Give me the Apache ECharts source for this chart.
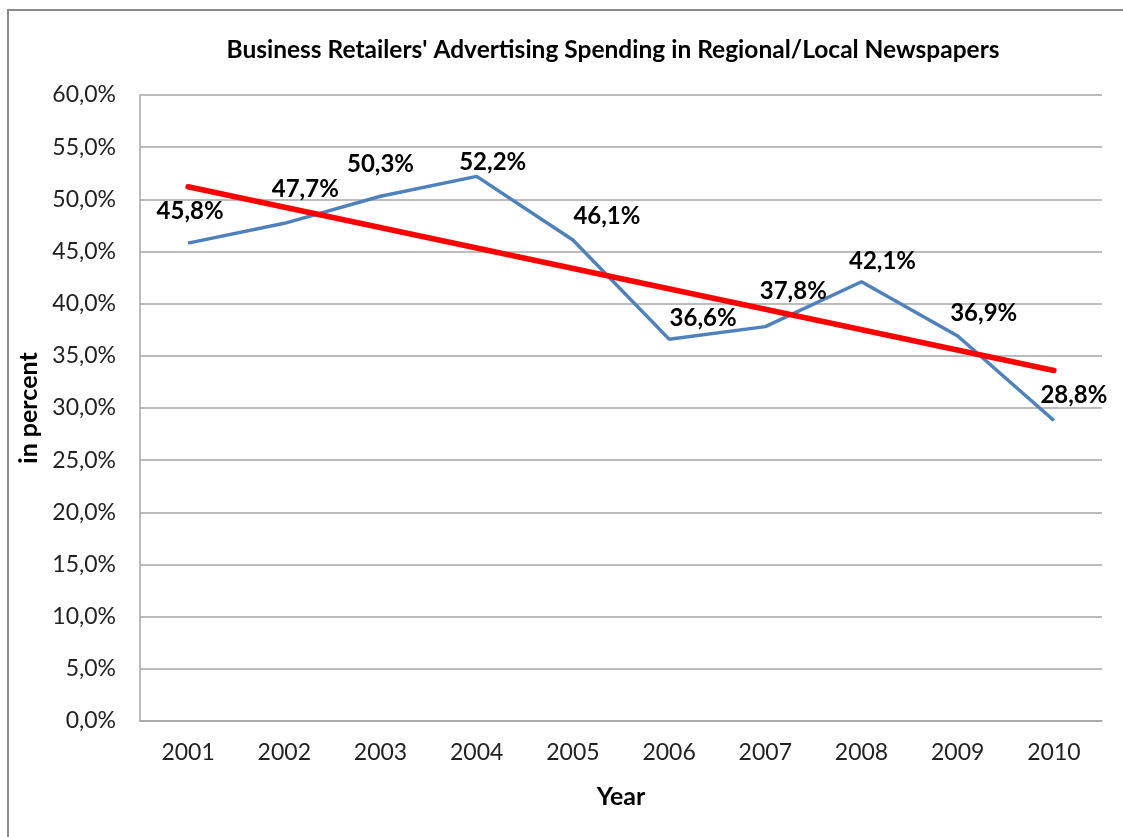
<!DOCTYPE html>
<html>
<head>
<meta charset="utf-8">
<script src="https://cdn.jsdelivr.net/npm/echarts@6/dist/echarts.min.js"></script>
<style>
  html, body { margin: 0; padding: 0; background: #fff; }
  #chart { width: 1123px; height: 837px; }
</style>
</head>
<body>
<div id="chart"></div>
<script>
// values
const years = ["2001", "2002", "2003", "2004", "2005", "2006", "2007", "2008", "2009", "2010"];
const spending = [45.8, 47.7, 50.3, 52.2, 46.1, 36.6, 37.8, 42.1, 36.9, 28.8];
// linear trend: only its two ends are drawn in the reference
const trend = [51.2, null, null, null, null, null, null, null, null, 33.6];

// where each value label sits relative to its point
const labelOffsets = [[2, -15], [21, -17], [0, -15], [16, 3], [34, -7], [34, -4], [28, -18], [21, -3], [26, -6], [20, -8]];

const font = "Lato, 'Open Sans', sans-serif";
const fmt = v => v.toFixed(1).replace(".", ",") + "%";

const chart = echarts.init(document.getElementById("chart"));
chart.setOption({
  animation: false,
  textStyle: { fontFamily: font },
  graphic: [{
    type: "rect",
    shape: { x: 8, y: 10, width: 1300, height: 1000 },
    style: { fill: "none", stroke: "#8c8c8c", lineWidth: 2 }
  }],
  title: {
    text: "Business Retailers' Advertising Spending in Regional/Local Newspapers",
    left: 608, top: 33, textAlign: "center",
    textStyle: { fontFamily: font, fontSize: 24.5, fontWeight: "bold", color: "#000" }
  },
  grid: { left: 140, right: 21, top: 95, bottom: 116, containLabel: false },
  xAxis: {
    type: "category",
    data: years,
    boundaryGap: true,
    name: "Year",
    nameLocation: "middle",
    nameGap: 63,
    nameTextStyle: { fontFamily: font, fontSize: 25, fontWeight: "bold", color: "#000", verticalAlign: "top" },
    axisLine: { lineStyle: { color: "#a6a6a6", width: 1.5 } },
    axisTick: { show: false },
    axisLabel: { margin: 20, fontSize: 23, color: "#222", fontFamily: font }
  },
  yAxis: {
    type: "value",
    min: 0, max: 60, interval: 5,
    name: "in percent",
    nameLocation: "middle",
    nameGap: 97,
    nameRotate: 90,
    nameTextStyle: { fontFamily: font, fontSize: 25, fontWeight: "bold", color: "#000" },
    axisLine: { show: true, lineStyle: { color: "#a6a6a6", width: 1.5 } },
    axisTick: { show: false },
    axisLabel: { margin: 24, fontSize: 23, color: "#222", fontFamily: font, formatter: fmt },
    splitLine: { lineStyle: { color: "#a6a6a6", width: 1.5 } }
  },
  series: [
    {
      type: "line",
      data: spending.map((v, i) => ({
        value: v,
        label: { offset: labelOffsets[i] }
      })),
      symbol: "circle",
      symbolSize: 0,
      showSymbol: true,
      itemStyle: { color: "#4f81bd" },
      lineStyle: { color: "#4f81bd", width: 3.5 },
      label: {
        show: true,
        position: "top",
        fontFamily: font, fontSize: 24, fontWeight: "bold", color: "#000",
        formatter: p => fmt(p.value)
      },
      z: 2
    },
    {
      type: "line",
      data: trend,
      connectNulls: true,
      symbol: "none",
      lineStyle: { color: "#ff0000", width: 5.5, cap: "round" },
      z: 3
    }
  ]
});
</script>
</body>
</html>
